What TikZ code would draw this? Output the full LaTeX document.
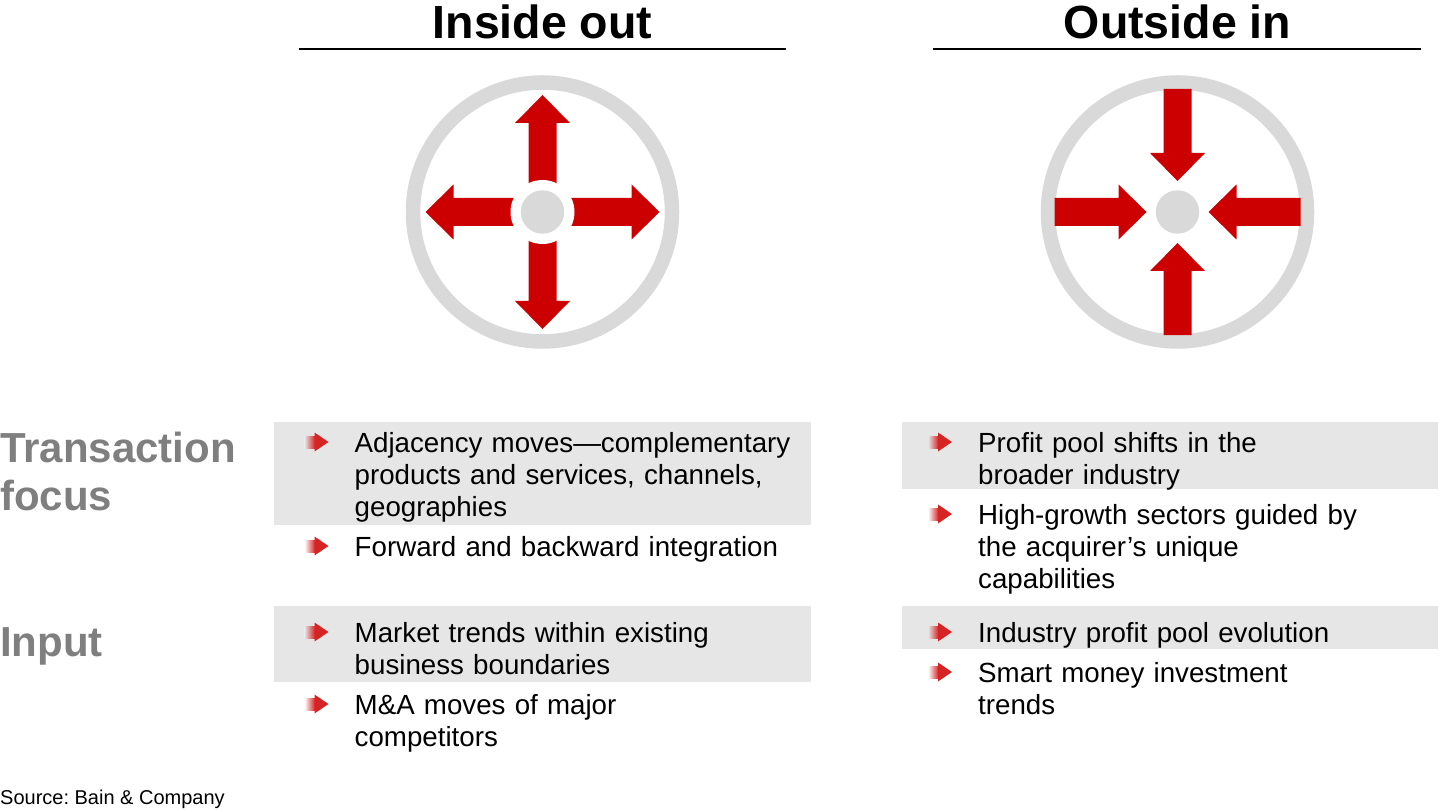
\documentclass[tikz,border=0pt]{standalone}
\usepackage{fontspec}
\setmainfont{Liberation Sans}
\frenchspacing

\definecolor{arrowred}{HTML}{CC0000}
\definecolor{bulletred}{RGB}{214,36,36}
\definecolor{ringgray}{HTML}{D9D9D9}
\definecolor{boxgray}{HTML}{E6E6E6}
\definecolor{labelgray}{HTML}{7F7F7F}

% small red arrow in front of a text node, #2 = colour behind it
\newcommand{\redbullet}[2]{%
  \shade[left color=#2, right color=bulletred]
    ([xshift=-50pt,yshift=4pt]#1.base west) rectangle ([xshift=-39.5pt,yshift=16pt]#1.base west);
  \fill[bulletred] ([xshift=-40pt,yshift=0.5pt]#1.base west) -- ([xshift=-26pt,yshift=10pt]#1.base west)
    -- ([xshift=-40pt,yshift=19.5pt]#1.base west) -- cycle;}

\begin{document}
\begin{tikzpicture}[x=1pt,y=-1pt,
    title/.style={anchor=base, inner sep=0pt, font=\fontsize{46.5}{52}\selectfont\bfseries},
    rowlabel/.style={anchor=base west, inner sep=0pt, text width=270pt, align=left,
      text=labelgray, font=\fontsize{42}{48.4}\selectfont\bfseries},
    item/.style={anchor=base west, inner sep=0pt, text width=450pt, align=left,
      font=\fontsize{27.7}{32}\selectfont},
    band/.style={fill=boxgray},
    ring/.style={circle, draw=ringgray, line width=14.5pt, minimum size=259pt, inner sep=0pt},
    hub/.style={circle, fill=ringgray, minimum size=43.4pt, inner sep=0pt},
    rule/.style={line width=2.7pt}]
        \useasboundingbox (0,0) rectangle (1440,810);

        % headings
        \node[title] (iotitle) at (542.5,39) {Inside out};
        \node[title] (oititle) at (1177.5,39) {Outside in};
        \draw[rule] (299,49) -- (786,49);
        \draw[rule] (933,49) -- (1421,49);

        % inside out: arrows pointing away from the centre
        \coordinate (ioc) at (542.5,212);
        \node[ring] (ioring) at (ioc) {};
        \fill[arrowred] (ioc) ++(-14,0) -- ++(0,-89) -- ++(-13.5,0) -- ++(27.5,-28) -- ++(27.5,28) -- ++(-13.5,0) -- ++(0,89) -- cycle;
        \fill[arrowred, rotate around={90:(ioc)}] (ioc) ++(-14,0) -- ++(0,-89) -- ++(-13.5,0) -- ++(27.5,-28) -- ++(27.5,28) -- ++(-13.5,0) -- ++(0,89) -- cycle;
        \fill[arrowred, rotate around={180:(ioc)}] (ioc) ++(-14,0) -- ++(0,-89) -- ++(-13.5,0) -- ++(27.5,-28) -- ++(27.5,28) -- ++(-13.5,0) -- ++(0,89) -- cycle;
        \fill[arrowred, rotate around={270:(ioc)}] (ioc) ++(-14,0) -- ++(0,-89) -- ++(-13.5,0) -- ++(27.5,-28) -- ++(27.5,28) -- ++(-13.5,0) -- ++(0,89) -- cycle;
        \fill[white] (ioc) circle[radius=32];
        \node[hub] (iohub) at (ioc) {};

        % outside in: arrows pointing to the centre
        \coordinate (oic) at (1177.5,212);
        \node[ring] (oiring) at (oic) {};
        \fill[arrowred] (oic) ++(-14,-123) -- ++(0,64) -- ++(-13.5,0) -- ++(27.5,28) -- ++(27.5,-28) -- ++(-13.5,0) -- ++(0,-64) -- cycle;
        \fill[arrowred, rotate around={90:(oic)}] (oic) ++(-14,-123) -- ++(0,64) -- ++(-13.5,0) -- ++(27.5,28) -- ++(27.5,-28) -- ++(-13.5,0) -- ++(0,-64) -- cycle;
        \fill[arrowred, rotate around={180:(oic)}] (oic) ++(-14,-123) -- ++(0,64) -- ++(-13.5,0) -- ++(27.5,28) -- ++(27.5,-28) -- ++(-13.5,0) -- ++(0,-64) -- cycle;
        \fill[arrowred, rotate around={270:(oic)}] (oic) ++(-14,-123) -- ++(0,64) -- ++(-13.5,0) -- ++(27.5,28) -- ++(27.5,-28) -- ++(-13.5,0) -- ++(0,-64) -- cycle;
        \node[hub] (oihub) at (oic) {};

        % row labels
        \node[rowlabel] (tflabel) at (0,462) {Transaction\\focus};
        \node[rowlabel] (inlabel) at (0,656) {Input};

        % shaded bands
        \fill[band] (274,422) rectangle (811,525);
        \fill[band] (902,422) rectangle (1438,489);
        \fill[band] (274,606) rectangle (811,682);
        \fill[band] (902,606) rectangle (1438,649);

        % inside out items
        \node[item] (io1) at (354.5,452) {Adjacency moves—complementary\\products and services, channels,\\geographies};
        \node[item] (io2) at (354.5,556) {Forward and backward integration};
        \node[item] (io3) at (354.5,642) {Market trends within existing\\business boundaries};
        \node[item] (io4) at (354.5,714) {M\&A moves of major\\competitors};
        \redbullet{io1}{boxgray}
        \redbullet{io2}{white}
        \redbullet{io3}{boxgray}
        \redbullet{io4}{white}

        % outside in items
        \node[item] (oi1) at (978,452) {Profit pool shifts in the\\broader industry};
        \node[item] (oi2) at (978,524) {High-growth sectors guided by\\the acquirer’s unique\\capabilities};
        \node[item] (oi3) at (978,642) {Industry profit pool evolution};
        \node[item] (oi4) at (978,682) {Smart money investment\\trends};
        \redbullet{oi1}{boxgray}
        \redbullet{oi2}{white}
        \redbullet{oi3}{boxgray}
        \redbullet{oi4}{white}

        \node[anchor=base west, inner sep=0pt, font=\fontsize{20}{24}\selectfont] (source) at (0,804) {Source: Bain \& Company};
    \end{tikzpicture}
\end{document}
